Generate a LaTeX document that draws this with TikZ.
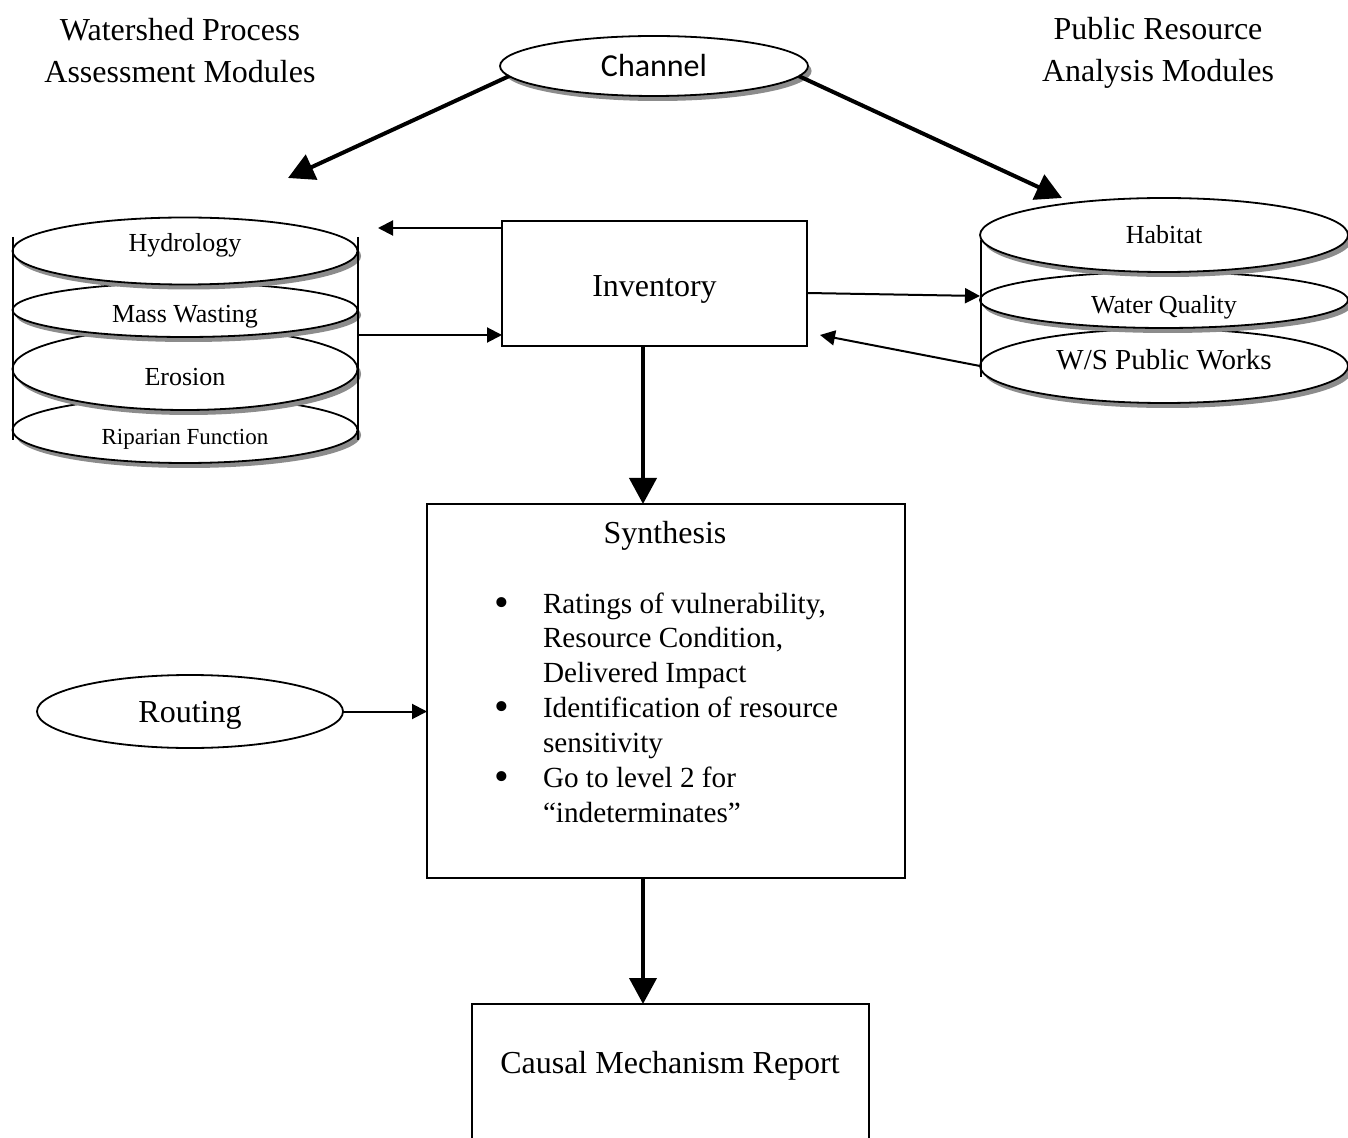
\documentclass[tikz,border=0pt]{standalone}
\usepackage{fontspec}
\setmainfont{Liberation Serif}
\newfontfamily\calibri{Carlito}
\usetikzlibrary{arrows.meta,shapes.geometric,shadows}
\newcommand{\bigbul}{\raisebox{-1.6pt}{\fontsize{21}{17}\selectfont •}}
\begin{document}
\begin{tikzpicture}[x=0.5pt,y=-0.5pt,
  every node/.style={inner sep=0pt, outer sep=0pt},
  disk/.style={ellipse, draw, line width=0.9pt, fill=white,
    drop shadow={shadow xshift=1.8pt, shadow yshift=-2.5pt, fill=black!45, opacity=1}},
  plaindisk/.style={ellipse, draw, line width=0.9pt, fill=white},
  box/.style={rectangle, draw, line width=1pt, fill=white},
  bigarrow/.style={line width=2pt, -{Triangle[length=13pt,width=13.5pt]}},
  smallarrow/.style={line width=1pt, -{Triangle[length=7.5pt,width=7.5pt]}},
  stackline/.style={line width=0.9pt},
  ftitle/.style={font=\fontsize{16}{21}\selectfont},
  fsmall/.style={font=\fontsize{13}{15}\selectfont},
]
\clip (0,0) rectangle (1348,1138);
\useasboundingbox (0,0) rectangle (1348,1138);

% titles
\node[ftitle, align=center] (lt) at (180,51) {Watershed Process\\Assessment Modules};
\node[ftitle, align=center] (rtt) at (1158,53) {Public Resource\\Analysis Modules};

% channel
\node[disk, minimum width=154pt, minimum height=30pt, font=\calibri\fontsize{16}{19}\selectfont] (ch) at (654,66) {Channel};

% left stack (bottom first)
\node[disk, minimum width=172.5pt, minimum height=33pt,
  label={[font=\fontsize{11.5}{14}\selectfont, yshift=-4.5pt]center:Riparian Function}] (rip) at (185,430) {};
\node[disk, minimum width=172.5pt, minimum height=41pt,
  label={[fsmall, yshift=-4pt]center:Erosion}] (ero) at (185,369) {};
\node[disk, minimum width=172.5pt, minimum height=27pt,
  label={[fsmall, yshift=-3.5pt]center:Mass Wasting}] (mas) at (185,310) {};
\node[disk, minimum width=172.5pt, minimum height=33.5pt,
  label={[fsmall, yshift=3pt]center:Hydrology}] (hyd) at (185,251) {};
\draw[stackline] (13,237) -- (13,440);
\draw[stackline] (358,237) -- (358,440);

% right stack (bottom first)
\node[disk, minimum width=184pt, minimum height=37pt,
  label={[font=\fontsize{14.5}{17}\selectfont, yshift=3pt]center:W/S Public Works}] (ws) at (1164,366) {};
\node[disk, minimum width=184pt, minimum height=28pt,
  label={[fsmall, yshift=-3.5pt]center:Water Quality}] (wq) at (1164,300) {};
\node[disk, minimum width=184pt, minimum height=37pt,
  label={[fsmall]center:Habitat}] (hab) at (1164,235) {};
\draw[stackline] (981,240) -- (981,377);

% inventory
\node[box, minimum width=152.5pt, minimum height=62.5pt,
  label={[ftitle, yshift=-3pt]center:Inventory}] (inv) at (654.5,283.5) {};

% synthesis
\node[box, minimum width=239pt, minimum height=187pt] (syn) at (666,691) {};
\node[ftitle] (synt) at (665,536) {Synthesis};
\node[anchor=base west, font=\fontsize{14.6}{17.45}\selectfont] (bul) at (494,613)
 {\begin{tabular}[t]{@{}p{24.5pt}@{}l@{}}
  \bigbul & Ratings of vulnerability,\\
    & Resource Condition,\\
    & Delivered Impact\\
  \bigbul & Identification of resource\\
    & sensitivity\\
  \bigbul & Go to level 2 for\\
    & “indeterminates”
  \end{tabular}};

% routing
\node[plaindisk, minimum width=153pt, minimum height=36.5pt,
  label={[ftitle, yshift=-2pt]center:Routing}] (rt) at (190,711.5) {};

% causal mechanism report
\node[box, minimum width=198.5pt, minimum height=78pt] (cmr) at (670.5,1082) {};
\node[ftitle] (cmrt) at (670,1066) {Causal Mechanism Report};

% connectors
\coordinate (lefttip) at (288,178);
\coordinate (righttip) at (1062,198);
\draw[bigarrow] (ch.184) -- (lefttip);
\draw[bigarrow] (ch.356) -- (righttip);

\coordinate (hydin) at (378,228);
\draw[smallarrow] (inv.west |- hydin) -- (hydin);
\coordinate (msout) at (358,335);
\draw[smallarrow] (msout) -- (inv.west |- msout);
\coordinate (wqin) at (980,296);
\draw[smallarrow] ([yshift=-4.75pt]inv.east) -- (wqin);
\coordinate (invin) at (820,335);
\draw[smallarrow] (ws.west) -- (invin);

\coordinate (ax) at (643,0);
\draw[bigarrow] (inv.south -| ax) -- (syn.north -| ax);
\draw[bigarrow] (syn.south -| ax) -- (cmr.north -| ax);
\draw[smallarrow] (rt.east) -- (syn.west |- rt.east);
\end{tikzpicture}
\end{document}
